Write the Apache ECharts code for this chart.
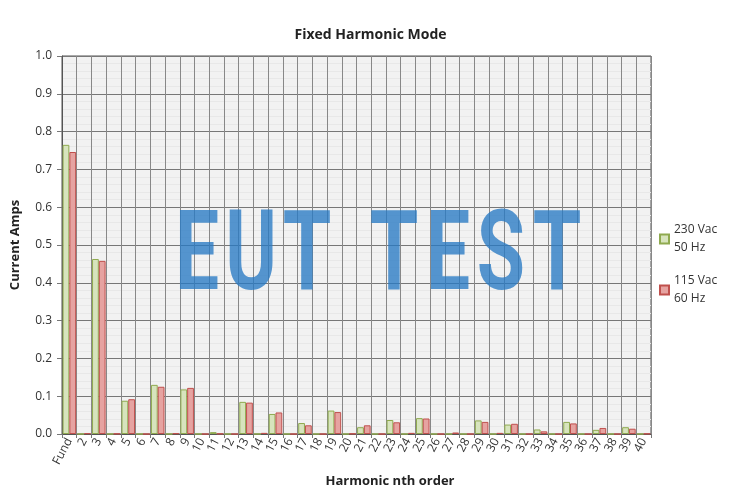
<!DOCTYPE html>
<html>
<head>
<meta charset="utf-8">
<script src="https://cdn.jsdelivr.net/npm/echarts@6/dist/echarts.min.js"></script>
<style>
html,body{margin:0;padding:0;background:#fff;}
#chart{width:741px;height:502px;}
</style>
</head>
<body>
<div id="chart"></div>
<script>
const categories = ['Fund','2','3','4','5','6','7','8','9','10','11','12','13','14','15','16','17','18','19','20','21','22','23','24','25','26','27','28','29','30','31','32','33','34','35','36','37','38','39','40'];
const series230 = [0.765,0,0.463,0,0.088,0,0.130,0,0.118,0,0.005,0,0.085,0,0.053,0,0.029,0,0.062,0,0.018,0,0.037,0,0.042,0,0,0,0.036,0,0.025,0,0.012,0,0.032,0,0.011,0,0.018,0];
const series115 = [0.746,0.002,0.458,0.001,0.092,0,0.125,0.002,0.122,0,0.001,0,0.083,0.003,0.057,0,0.023,0,0.058,0.001,0.023,0,0.031,0.003,0.041,0,0.004,0,0.032,0.003,0.027,0,0.007,0,0.028,0,0.016,0,0.014,0.001];
const seriesNames = ['230 Vac\n50 Hz','115 Vac\n60 Hz'];
const yTicks = {min:0, max:1, interval:0.1};
const watermarkLetters = ['E','U','T','T','E','S','T'];

const chart = echarts.init(document.getElementById('chart'), null, {renderer:'canvas'});
const font = 'Open Sans';
const wmX = [197, 251, 307, 394, 448, 501, 557];
const option = {
  animation:false,
  backgroundColor:'#ffffff',
  textStyle:{fontFamily:font},
  title:{
    text:'Fixed Harmonic Mode',
    left:'center', top:23,
    textStyle:{fontFamily:font,fontSize:14,fontWeight:'bold',color:'#222'}
  },
  legend:{
    orient:'vertical',
    left:654, top:207,
    itemWidth:9, itemHeight:9, itemGap:-3,
    icon:'rect',
    data:seriesNames,
    textStyle:{fontFamily:font,fontSize:12,color:'#333',lineHeight:18,padding:[18,0,0,0]}
  },
  grid:{
    left:62, right:90, top:56, bottom:68,
    show:true, backgroundColor:'#f2f2f2', borderColor:'#555', borderWidth:1
  },
  xAxis:{
    type:'category',
    data:categories,
    name:'Harmonic nth order',
    nameLocation:'middle',
    nameGap:38,
    nameTextStyle:{fontFamily:font,fontSize:13,fontWeight:'bold',color:'#222',padding:[0,0,0,67]},
    axisLine:{lineStyle:{color:'#555'}},
    axisTick:{show:true,length:4,lineStyle:{color:'#777'}},
    axisLabel:{interval:0,rotate:62,fontSize:12,color:'#333',margin:5,fontFamily:font},
    splitLine:{show:true,interval:0,lineStyle:{color:'#888',width:1}}
  },
  yAxis:{
    type:'value',
    min:yTicks.min, max:yTicks.max, interval:yTicks.interval,
    name:'Current Amps',
    nameLocation:'middle',
    nameGap:40,
    nameTextStyle:{fontFamily:font,fontSize:13,fontWeight:'bold',color:'#222'},
    axisLine:{show:true,lineStyle:{color:'#555'}},
    axisTick:{show:true,length:5,lineStyle:{color:'#777'}},
    axisLabel:{fontSize:12,color:'#333',margin:10,fontFamily:font,formatter:v=>v.toFixed(1)},
    splitLine:{show:true,lineStyle:{color:'#777',width:1}},
    minorTick:{show:false,splitNumber:5},
    minorSplitLine:{show:true,lineStyle:{color:'#e8e8e8',width:1}}
  },
  series:[
    {name:seriesNames[0],type:'bar',data:series230,barGap:'0%',barCategoryGap:'8%',
     itemStyle:{color:'#d7e4bd',borderColor:'#8faa4f',borderWidth:1}},
    {name:seriesNames[1],type:'bar',data:series115,barGap:'0%',barCategoryGap:'8%',
     itemStyle:{color:'#e6a3a1',borderColor:'#c0504d',borderWidth:1}}
  ],
  graphic: watermarkLetters.map((ch,i)=>({
    type:'text',
    x:wmX[i], y:261,
    scaleX:0.7,
    z:100,
    silent:true,
    style:{text:ch,fontFamily:'Roboto',fontWeight:'bold',fontSize:112,fill:'rgba(40,122,196,0.78)',align:'center',verticalAlign:'middle'}
  }))
};
chart.setOption(option);
</script>
</body>
</html>
